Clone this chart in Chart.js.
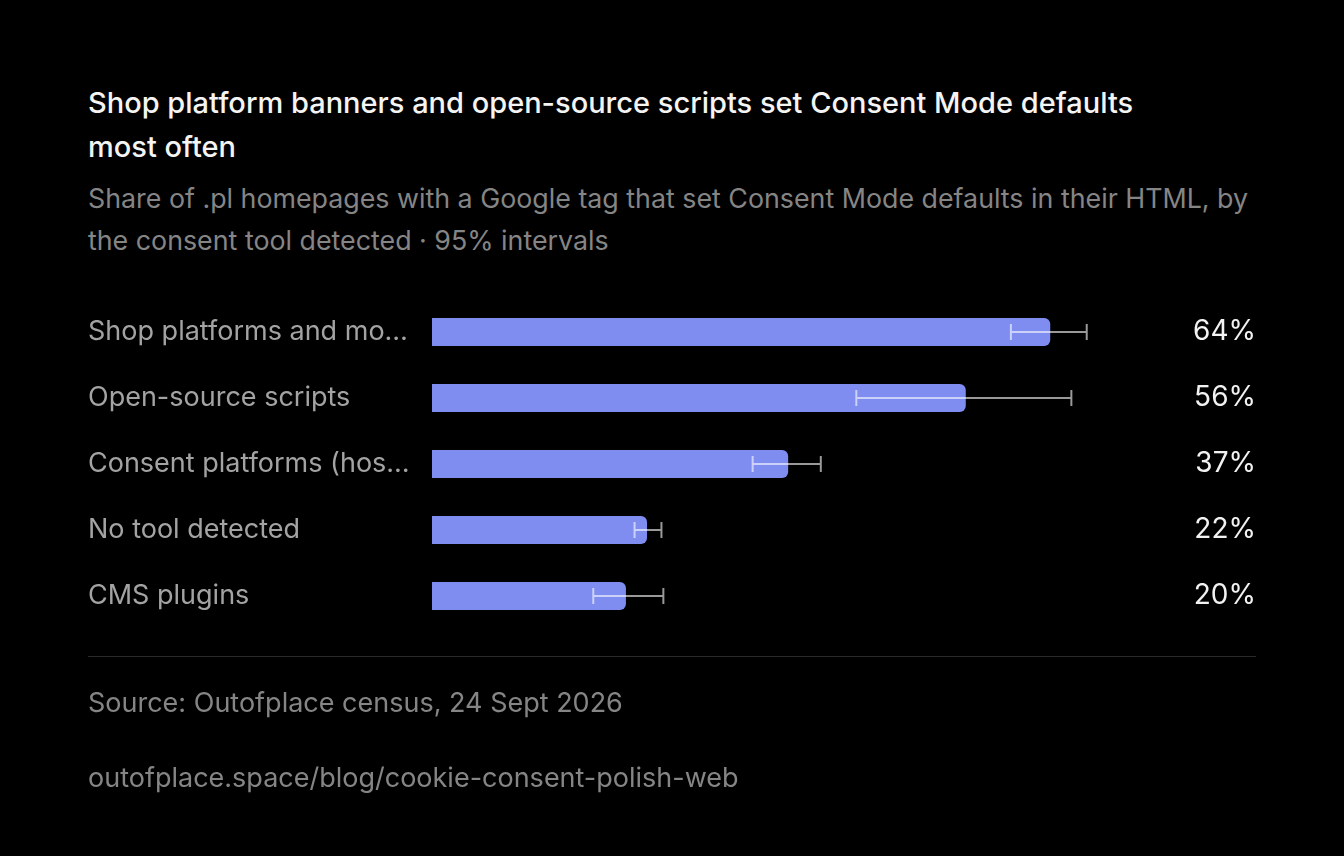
<!DOCTYPE html>
<html>
<head>
<meta charset="utf-8">
<script src="https://cdn.jsdelivr.net/npm/chart.js@4/dist/chart.umd.min.js"></script>
<style>
  html, body { margin: 0; padding: 0; background: #000; }
  body { width: 1344px; height: 856px; position: relative; overflow: hidden; font-family: Inter, "Noto Sans", sans-serif; }
  #title { position: absolute; left: 88px; top: 81px; width: 1080px; margin: 0; font-size: 29px; font-weight: 500; line-height: 44px; color: #f4f4f4; }
  #subtitle { position: absolute; left: 88px; top: 177px; width: 1180px; margin: 0; font-size: 26.8px; line-height: 42px; color: #858585; }
  #wrap { position: absolute; left: 0; top: 0; width: 1344px; height: 856px; }
  #rule { position: absolute; left: 88px; top: 656px; width: 1168px; height: 1px; background: #2a2a2a; }
  #source { position: absolute; left: 88px; top: 686px; font-size: 27px; line-height: 34px; color: #858585; }
  #url { position: absolute; left: 88px; top: 761px; font-size: 27px; line-height: 34px; color: #858585; }
</style>
</head>
<body>
<h1 id="title">Shop platform banners and open-source scripts set Consent Mode defaults most often</h1>
<p id="subtitle">Share of .pl homepages with a Google tag that set Consent Mode defaults in their HTML, by the consent tool detected · 95% intervals</p>
<div id="wrap"><canvas id="myChart" width="1344" height="856"></canvas></div>
<div id="rule"></div>
<div id="source">Source: Outofplace census, 24 Sept 2026</div>
<div id="url">outofplace.space/blog/cookie-consent-polish-web</div>

<script>
// data (percent)
var categories = ['Shop platforms and modules', 'Open-source scripts', 'Consent platforms (hosted)', 'No tool detected', 'CMS plugins'];
var shares = [64.4, 55.6, 37.1, 22.4, 20.2];
var lowerCI = [60.3, 44.2, 33.4, 21.1, 16.8];
var upperCI = [68.2, 66.6, 40.5, 23.9, 24.1];

var FONT = 'Inter, "Noto Sans", sans-serif';
Chart.defaults.font.family = FONT;

// cut long labels down with an ellipsis
var measureCtx = document.createElement('canvas').getContext('2d');
function fitLabel(text, maxWidth) {
    measureCtx.font = '27px ' + FONT;
    if (measureCtx.measureText(text).width <= maxWidth) return text;
    var s = text;
    while (s.length > 1 && measureCtx.measureText(s + '…').width > maxWidth) {
        s = s.slice(0, -1);
    }
    return s.replace(/\s+$/, '') + '…';
}

// whiskers for the 95% intervals
var errorBars = {
    id: 'errorBars',
    afterDatasetsDraw: function(chart) {
        var ctx = chart.ctx;
        var x = chart.scales.x;
        var meta = chart.getDatasetMeta(0);
        ctx.save();
        ctx.strokeStyle = 'rgba(255, 255, 255, 0.6)';
        ctx.lineWidth = 2;
        meta.data.forEach(function(bar, i) {
            var x1 = x.getPixelForValue(lowerCI[i]);
            var x2 = x.getPixelForValue(upperCI[i]);
            var y = bar.y;
            ctx.beginPath();
            ctx.moveTo(x1, y); ctx.lineTo(x2, y);
            ctx.moveTo(x1, y - 8); ctx.lineTo(x1, y + 8);
            ctx.moveTo(x2, y - 8); ctx.lineTo(x2, y + 8);
            ctx.stroke();
        });
        ctx.restore();
    }
};

// value labels at the right edge
var valueLabels = {
    id: 'valueLabels',
    afterDatasetsDraw: function(chart) {
        var ctx = chart.ctx;
        var meta = chart.getDatasetMeta(0);
        ctx.save();
        ctx.fillStyle = '#f2f2f2';
        ctx.font = '28px ' + FONT;
        ctx.textAlign = 'right';
        ctx.textBaseline = 'middle';
        meta.data.forEach(function(bar, i) {
            ctx.fillText(Math.round(shares[i]) + '%', 1256, bar.y);
        });
        ctx.restore();
    }
};

var ctx = document.getElementById('myChart').getContext('2d');
var myChart = new Chart(ctx, {
    type: 'bar',
    plugins: [errorBars, valueLabels],
    data: {
        labels: categories,
        datasets: [{
            data: shares,
            backgroundColor: '#7f8cf0',
            borderRadius: 6,
            borderSkipped: 'start',
            barPercentage: 28 / 66,
            categoryPercentage: 1
        }]
    },
    options: {
        indexAxis: 'y',
        responsive: false,
        animation: false,
        layout: {
            padding: { left: 88, right: 240, top: 299, bottom: 227 }
        },
        plugins: {
            legend: { display: false },
            tooltip: { enabled: false }
        },
        scales: {
            x: {
                display: false,
                min: 0,
                max: 70
            },
            y: {
                grid: { display: false },
                border: { display: false },
                afterFit: function(scale) { scale.width = 344; },
                ticks: {
                    crossAlign: 'far',
                    color: '#a3a3a3',
                    font: { size: 27 },
                    padding: 0,
                    callback: function(value) {
                        return fitLabel(categories[value], 322);
                    }
                }
            }
        }
    }
});
</script>
</body>
</html>
